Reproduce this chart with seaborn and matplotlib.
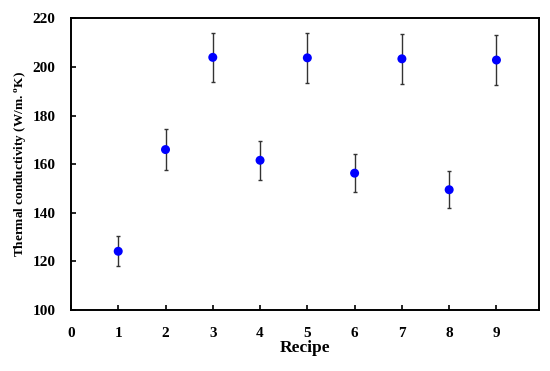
import matplotlib
matplotlib.use("Agg")
import matplotlib.pyplot as plt
import seaborn as sns
import pandas as pd

recipe = [1, 2, 3, 4, 5, 6, 7, 8, 9]
conductivity = [124.2, 166.0, 203.9, 161.6, 203.7, 156.3, 203.3, 149.5, 202.8]
error = [6.2, 8.3, 10.2, 8.1, 10.2, 7.8, 10.2, 7.5, 10.1]

df = pd.DataFrame({"Recipe": recipe, "k": conductivity, "err": error})

sns.set_style("ticks", {"text.color": "black", "axes.labelcolor": "black",
                        "xtick.color": "black", "ytick.color": "black",
                        "axes.edgecolor": "black"})
plt.rcParams['font.family'] = ['Liberation Serif', 'DejaVu Serif']
plt.rcParams['font.weight'] = 'bold'
plt.rcParams['mathtext.fontset'] = 'custom'
plt.rcParams['mathtext.bf'] = 'Liberation Serif:bold'
plt.rcParams['mathtext.rm'] = 'Liberation Serif'

fig = plt.figure(figsize=(5.5, 3.71), dpi=100)
ax = fig.add_axes([0.129, 0.164, 0.851, 0.787])

ax.errorbar(df["Recipe"], df["k"], yerr=df["err"], fmt="none",
            ecolor="#333333", elinewidth=1.0, capsize=1.6, capthick=1.0, zorder=2)
sns.scatterplot(data=df, x="Recipe", y="k", ax=ax, color="#0000ff",
                s=42, edgecolor="none", zorder=3)

ax.set_xlim(0, 9.9)
ax.set_ylim(100, 220)
ax.set_xticks(range(0, 10))
ax.set_yticks(range(100, 221, 20))
ax.tick_params(direction="in", length=3.5, width=1.2, labelsize=11, pad=11,
               colors="black")
ax.tick_params(axis="x", pad=12)
for s in ax.spines.values():
    s.set_linewidth(1.4)
    s.set_color("black")

ax.set_xlabel("Recipe", fontsize=12.5, fontweight="bold", labelpad=0)
ax.set_ylabel(r"Thermal conductivity (W/m. $^{\mathbf{o}}$K)", fontsize=9.5,
              fontweight="bold", labelpad=3)

fig.savefig("out.png", dpi=100)
